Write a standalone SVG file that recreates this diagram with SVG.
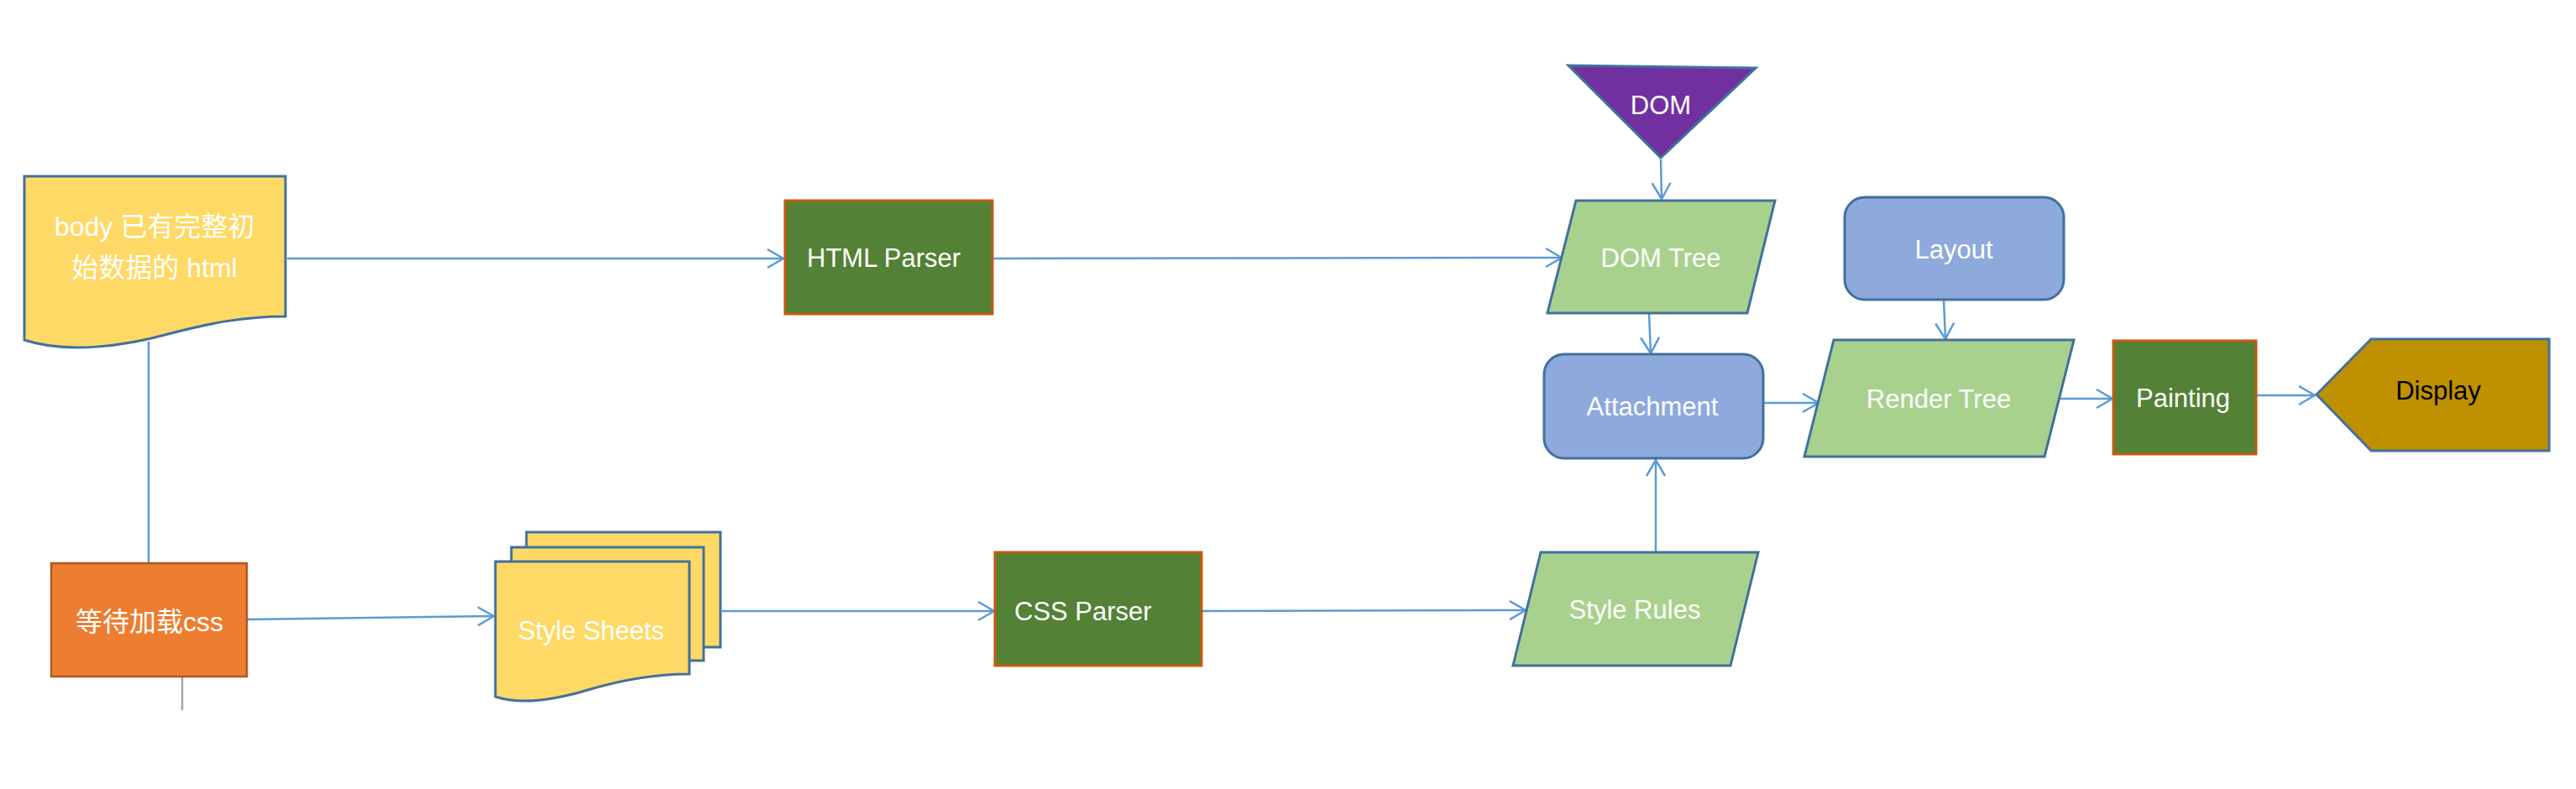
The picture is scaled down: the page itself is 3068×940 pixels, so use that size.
<svg xmlns="http://www.w3.org/2000/svg" width="3068" height="940" viewBox="0 0 3068 940">
<style>
.t{font-family:"Liberation Sans","Noto Sans CJK SC",sans-serif;font-size:31px;fill:#ffffff}
.cjk{font-family:"Liberation Sans","Noto Sans CJK SC",sans-serif;font-size:32px;fill:#ffffff}
.blue{stroke:#41719C;stroke-width:3}
.doc{fill:#FFD966;stroke:#41719C;stroke-width:3}
.par{fill:#A9D18E;stroke:#41719C;stroke-width:3}
.rr{fill:#8EA9DB;stroke:#41719C;stroke-width:3}
.proc{fill:#538135;stroke:#C55A11;stroke-width:3}
.c{fill:none;stroke:#5B9BD5;stroke-width:2.5}
</style>
<defs>
<marker id="arr" markerUnits="userSpaceOnUse" markerWidth="24" markerHeight="26" refX="20" refY="12" orient="auto">
<path d="M1,1 L20,12 L1,23" fill="none" stroke="#5B9BD5" stroke-width="2.5"/>
</marker>
</defs>
<rect width="3068" height="940" fill="#ffffff"/>
<g id="connectors">
<path class="c" d="M342,308 H933" marker-end="url(#arr)"/>
<path class="c" d="M1182,308 L1860,307" marker-end="url(#arr)"/>
<path class="c" d="M1978,190 L1979,237" marker-end="url(#arr)"/>
<path class="c" d="M1964,374 L1966,421" marker-end="url(#arr)"/>
<path class="c" d="M2315,358 L2317,404" marker-end="url(#arr)"/>
<path class="c" d="M2100,480 L2166,480" marker-end="url(#arr)"/>
<path class="c" d="M2450,475 L2516,475" marker-end="url(#arr)"/>
<path class="c" d="M2687,471 L2757,471" marker-end="url(#arr)"/>
<path class="c" d="M1972,658 L1972,548" marker-end="url(#arr)"/>
<path class="c" d="M1431,728 L1817,727" marker-end="url(#arr)"/>
<path class="c" d="M860,728 L1184,728" marker-end="url(#arr)"/>
<path class="c" d="M294,738 L588,734" marker-end="url(#arr)"/>
<path class="c" d="M177,407 V671"/>
<path d="M217,806 V846" fill="none" stroke="#A5A5A5" stroke-width="2.5"/>
</g>
<g id="body-doc">
<path class="doc" d="M29,210 H340 V377 C290,377 250,385 200,398 C150,412 80,422 29,405 Z"/>
<text class="cjk" x="184" y="281" text-anchor="middle">body 已有完整初</text>
<text class="cjk" x="184" y="330" text-anchor="middle">始数据的 html</text>
</g>
<g id="wait-css">
<rect x="61" y="671" width="233" height="135" fill="#ED7D31" stroke="#AE5A21" stroke-width="2.5"/>
<text class="cjk" x="178" y="752" text-anchor="middle">等待加载css</text>
</g>
<g id="html-parser">
<rect class="proc" x="935" y="239" width="247" height="135"/>
<text class="t" x="961" y="318">HTML Parser</text>
</g>
<g id="style-sheets">
<rect class="doc" x="627" y="634" width="231" height="137"/>
<rect class="doc" x="609" y="652" width="229" height="135"/>
<path class="doc" d="M590,669 H821 V803 C780,803 740,810 700,822 C660,834 620,840 590,830 Z"/>
<text class="t" x="704" y="762" text-anchor="middle">Style Sheets</text>
</g>
<g id="css-parser">
<rect class="proc" x="1185" y="658" width="246" height="135"/>
<text class="t" x="1208" y="739">CSS Parser</text>
</g>
<g id="dom">
<path d="M1868,78 L2091,81 L1978,188 Z" fill="#7030A0" stroke="#41719C" stroke-width="3"/>
<text class="t" x="1978" y="136" text-anchor="middle">DOM</text>
</g>
<g id="dom-tree">
<path class="par" d="M1877,239 H2114 L2081,373 H1843 Z"/>
<text class="t" x="1978" y="318" text-anchor="middle">DOM Tree</text>
</g>
<g id="attachment">
<rect class="rr" x="1839" y="422" width="261" height="124" rx="24"/>
<text class="t" x="1968" y="495" text-anchor="middle">Attachment</text>
</g>
<g id="style-rules">
<path class="par" d="M1835,658 H2094 L2061,793 H1802 Z"/>
<text class="t" x="1947" y="737" text-anchor="middle">Style Rules</text>
</g>
<g id="layout">
<rect class="rr" x="2197" y="235" width="261" height="122" rx="24"/>
<text class="t" x="2327" y="308" text-anchor="middle">Layout</text>
</g>
<g id="render-tree">
<path class="par" d="M2184,405 H2470 L2435,544 H2149 Z"/>
<text class="t" x="2309" y="486" text-anchor="middle">Render Tree</text>
</g>
<g id="painting">
<rect class="proc" x="2517" y="406" width="170" height="135"/>
<text class="t" x="2600" y="485" text-anchor="middle">Painting</text>
</g>
<g id="display">
<path d="M2759,470 L2824,404 H3036 V537 H2824 Z" fill="#BF9000" stroke="#41719C" stroke-width="3"/>
<text class="t" x="2904" y="476" text-anchor="middle" style="fill:#000000">Display</text>
</g>
</svg>
